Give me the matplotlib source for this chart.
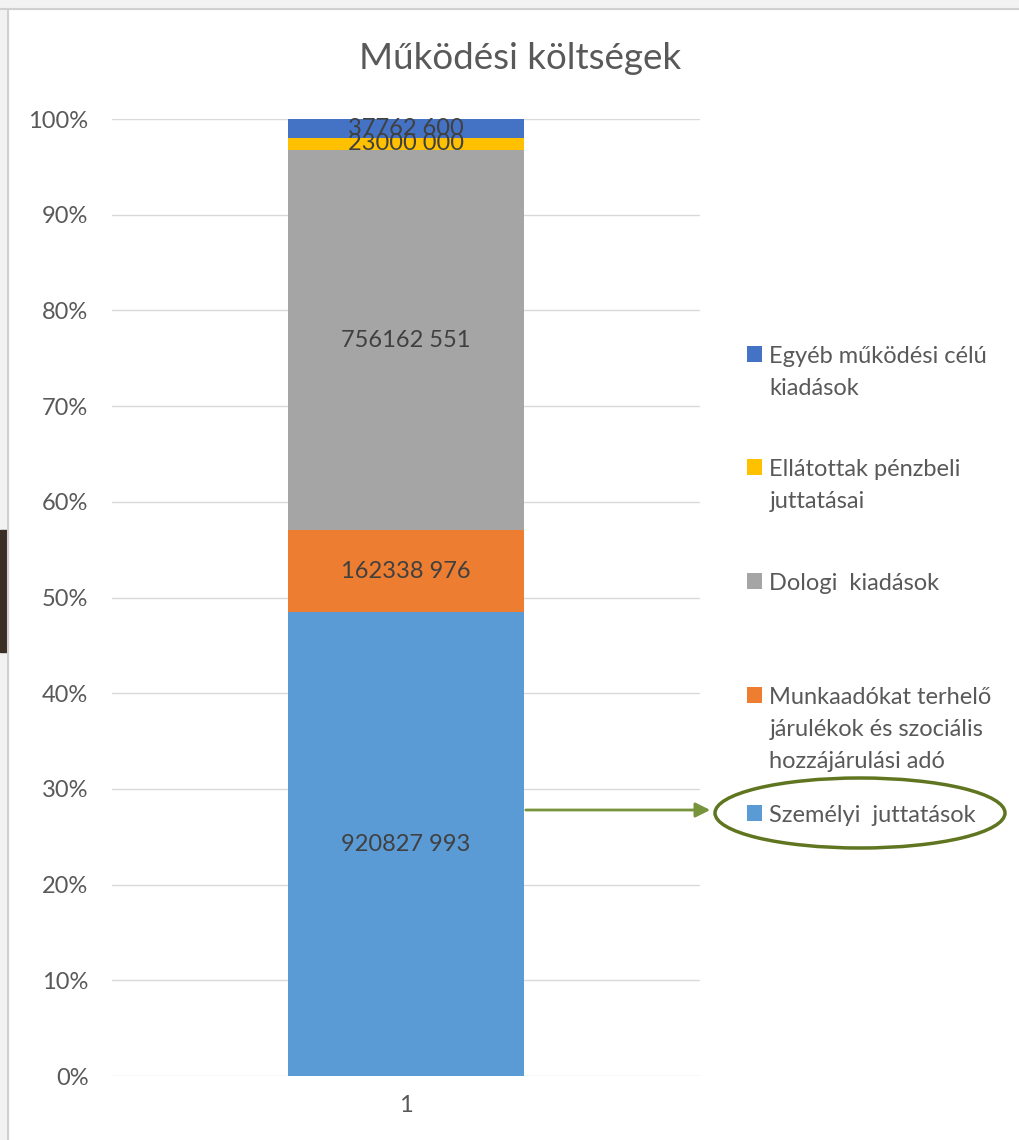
import matplotlib.pyplot as plt
from matplotlib.patches import Ellipse, Rectangle, FancyArrowPatch

plt.rcParams['font.family'] = ['Lato', 'DejaVu Sans']

# data
categories = ["1"]
series_names = [
    "Személyi  juttatások",
    "Munkaadókat terhelő\njárulékok és szociális\nhozzájárulási adó",
    "Dologi  kiadások",
    "Ellátottak pénzbeli\njuttatásai",
    "Egyéb működési célú\nkiadások",
]
series_values = [920827993, 162338976, 756162551, 23000000, 37762600]
series_colors = ["#5B9BD5", "#ED7D31", "#A5A5A5", "#FFC000", "#4472C4"]
y_ticks = [0, 10, 20, 30, 40, 50, 60, 70, 80, 90, 100]

total = sum(series_values)
shares = [v / total * 100 for v in series_values]


def fmt(v):
    s = f"{v:,}".split(",")
    return "".join(s[:-1]) + " " + s[-1]


fig = plt.figure(figsize=(10.2, 11.4), dpi=100)
ax = fig.add_axes([0.1098, 0.0561, 0.5765, 0.8395])

bars = []
bottom = 0
for name, share, val, col in zip(series_names, shares, series_values, series_colors):
    b = ax.bar(0, share, width=0.4, bottom=bottom, color=col, label=name, zorder=2)
    ax.text(0, bottom + share / 2, fmt(val), ha="center", va="center",
            fontsize=17, color="#404040", zorder=3)
    bars.append(b)
    bottom += share

ax.set_xlim(-0.5, 0.5)
ax.set_ylim(0, 100)
ax.set_yticks(y_ticks)
ax.set_yticklabels([f"{t}%" for t in y_ticks])
ax.set_xticks([0])
ax.set_xticklabels(categories)
ax.tick_params(length=0, labelsize=17, labelcolor="#595959")
ax.tick_params(axis="y", pad=17)
ax.tick_params(axis="x", pad=14)
ax.yaxis.grid(True, color="#D9D9D9", lw=1, zorder=0)
for sp in ax.spines.values():
    sp.set_visible(False)

fig.text(0.51, 0.949, "Működési költségek", ha="center", va="center",
         fontsize=26.5, color="#595959")

# legend, one entry at a time to keep Excel's spacing (top entry first)
legend_top_px = [346, 459, 573, 687, 805]
order = list(range(len(bars)))[::-1]
for i, ypx in zip(order, legend_top_px):
    lg = fig.legend([bars[i]], [series_names[i]], loc="upper left",
                    bbox_to_anchor=(747 / 1020, 1 - ypx / 1140),
                    frameon=False, fontsize=17, handlelength=0.65,
                    handleheight=0.65, handletextpad=0.3, borderpad=0,
                    borderaxespad=0, labelcolor="#595959")
    for t in lg.get_texts():
        t.set_linespacing(1.65)
    for col in lg._legend_handle_box.get_children():
        for item in col.get_children():
            item.align = "top"

# green annotation
fig.patches.append(FancyArrowPatch((523 / 1020, 1 - 810 / 1140), (713 / 1020, 1 - 810 / 1140),
                                   transform=fig.transFigure, arrowstyle="-|>",
                                   mutation_scale=22, color="#77933C", lw=2))
fig.patches.append(Ellipse((860 / 1020, 1 - 813 / 1140), 290 / 1020, 70 / 1140,
                           transform=fig.transFigure, fill=False,
                           edgecolor="#5F7520", lw=2.5))

# screenshot edges
fig.patches.append(Rectangle((0, 1 - 9 / 1140), 1, 9 / 1140, transform=fig.transFigure,
                             color="#F2F2F2", zorder=0))
fig.patches.append(Rectangle((0, 0), 8 / 1020, 1, transform=fig.transFigure,
                             color="#F2F2F2", zorder=0))
fig.lines.append(plt.Line2D([0, 1], [1 - 9 / 1140] * 2, transform=fig.transFigure,
                            color="#D0D0D0", lw=1.5))
fig.lines.append(plt.Line2D([8 / 1020] * 2, [0, 1 - 9 / 1140], transform=fig.transFigure,
                            color="#D0D0D0", lw=1.5))
fig.patches.append(Rectangle((0, 1 - 652 / 1140), 7 / 1020, 122 / 1140,
                             transform=fig.transFigure, color="#3A2E25", zorder=1))

fig.savefig("out.png", dpi=100)
